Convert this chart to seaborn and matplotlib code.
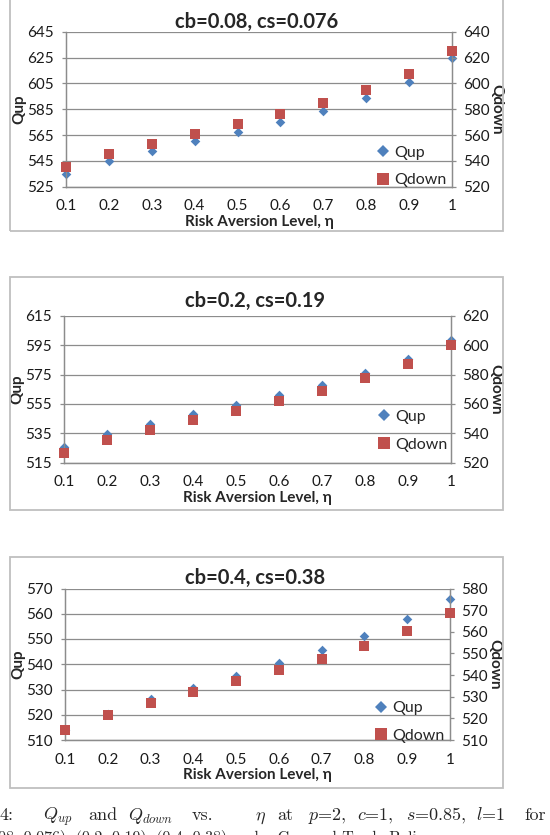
###############################################################################
###  Qup and Qdown vs risk aversion level (three cap-and-trade settings)     ###
###############################################################################

import matplotlib
matplotlib.use('Agg')
import matplotlib.pyplot as plt
import matplotlib.patches as mpatches
from matplotlib.lines import Line2D
import seaborn as sns

#------------------------------------------------------------------------------
### Data

eta = [0.1, 0.2, 0.3, 0.4, 0.5, 0.6, 0.7, 0.8, 0.9, 1.0]
eta_labels = ['0.1', '0.2', '0.3', '0.4', '0.5', '0.6', '0.7', '0.8', '0.9', '1']

titles = ['cb=0.08, cs=0.076', 'cb=0.2, cs=0.19', 'cb=0.4, cs=0.38']

qup_1 = [535.0, 545.0, 552.6, 560.1, 567.3, 575.3, 583.8, 593.9, 606.0, 624.4]
qdown_1 = [535.5, 545.3, 553.0, 560.5, 568.3, 576.0, 584.5, 594.6, 607.0, 625.3]

qup_2 = [525.7, 534.5, 541.3, 547.9, 554.5, 560.8, 567.8, 576.2, 585.7, 598.4]
qdown_2 = [526.6, 535.2, 542.2, 548.8, 555.4, 562.0, 569.0, 577.4, 586.9, 600.0]

qup_3 = [514.0, 520.1, 526.1, 530.7, 535.2, 540.6, 545.6, 551.2, 557.8, 565.7]
qdown_3 = [514.6, 521.7, 527.1, 532.2, 537.2, 542.3, 547.5, 553.5, 560.4, 568.6]

# Axis ticks (left = Qup, right = Qdown)
left_ticks = [list(range(525, 646, 20)), list(range(515, 616, 20)),
	list(range(510, 571, 10))]
right_ticks = [list(range(520, 641, 20)), list(range(520, 621, 20)),
	list(range(510, 581, 10))]

#------------------------------------------------------------------------------
### Layout constants (pixels, origin top-left)

W, H = 550, 835
# plot area: left, top, right, bottom
PLOT_BOX = [(66, 31.7, 452, 186.7), (64, 315.7, 451, 462.7),
	(65, 588.5, 450, 740)]
# grey frame round each chart: top, bottom
FRAME_BOX = [(-5, 231), (277, 510), (557, 788)]
TITLE_Y = [21.5, 301, 578.3]
# legend anchor (axes fraction, lower right corner)
LEGEND_ANCHOR = [(0.985, -0.005), (0.99, 0.075), (0.985, -0.02)]

BLUE = '#4F81BD'
RED = '#C0504D'
GRID = '#8C8C8C'
FRAME = '#BFBFBF'

sns.set_style('white')
plt.rcParams['font.family'] = ['Lato', 'DejaVu Sans']
plt.rcParams['mathtext.fontset'] = 'cm'


def px_axes(fig, box):
	left, top, right, bottom = box
	return fig.add_axes([left / W, 1 - bottom / H, (right - left) / W,
		(bottom - top) / H])


def draw_panel(fig, i, qup, qdown):
	# Frame round the chart
	top, bottom = FRAME_BOX[i]
	fig.patches.append(mpatches.Rectangle((10 / W, 1 - bottom / H), 493 / W,
		(bottom - top) / H, transform=fig.transFigure, fill=False,
		edgecolor=FRAME, linewidth=1.3))

	ax = px_axes(fig, PLOT_BOX[i])
	ax2 = ax.twinx()

	sns.scatterplot(x=eta, y=qup, ax=ax, marker='D', color=BLUE, s=24,
		linewidth=0, clip_on=False, zorder=3)
	sns.scatterplot(x=eta, y=qdown, ax=ax2, marker='s', color=RED, s=44,
		linewidth=0, clip_on=False, zorder=3)

	lt, rt = left_ticks[i], right_ticks[i]
	ax.set_xlim(eta[0], eta[-1])
	ax.set_ylim(lt[0], lt[-1])
	ax2.set_ylim(rt[0], rt[-1])
	ax.set_xticks(eta)
	ax.set_xticklabels(eta_labels)
	ax.set_yticks(lt)
	ax2.set_yticks(rt)

	ax.grid(axis='y', color=GRID, linewidth=0.9)
	ax.set_axisbelow(True)

	for a in (ax, ax2):
		a.spines['top'].set_visible(False)
		for s in ('left', 'right', 'bottom'):
			a.spines[s].set_color(GRID)
			a.spines[s].set_linewidth(0.9)
		a.tick_params(direction='out', length=3, width=0.9, color=GRID,
			labelsize=11, labelcolor='#1a1a1a')
	ax.tick_params(axis='y', pad=6)
	ax2.tick_params(axis='y', pad=5)
	ax.tick_params(axis='x', pad=6)

	ax.set_xlabel('Risk Aversion Level, η', fontsize=11, fontweight='bold',
		labelpad=1)
	ax.set_ylabel('Qup', fontsize=11, fontweight='bold')
	ax2.set_ylabel('Qdown', fontsize=11, fontweight='bold', rotation=270,
		va='center')
	ax.yaxis.set_label_coords(-0.103, 0.5)
	ax2.yaxis.set_label_coords(1.115, 0.5)

	left, _, right, _ = PLOT_BOX[i]
	fig.text((left + right) / 2 / W - 0.005, 1 - TITLE_Y[i] / H, titles[i],
		fontsize=14.5, fontweight='bold', ha='center', va='center')

	# Legend
	handles = [Line2D([], [], linestyle='none', marker='D', color=BLUE,
			markersize=6, markeredgewidth=0),
		Line2D([], [], linestyle='none', marker='s', color=RED,
			markersize=8, markeredgewidth=0)]
	ax2.legend(handles, ['Qup', 'Qdown'], loc='lower right',
		bbox_to_anchor=LEGEND_ANCHOR[i], frameon=False, fontsize=11.5,
		handlelength=0.8, handletextpad=0.3, labelspacing=0.85,
		borderpad=0, borderaxespad=0)


#------------------------------------------------------------------------------
### Make figure

fig = plt.figure(figsize=(W / 100, H / 100), dpi=100)

for i, (qup, qdown) in enumerate([(qup_1, qdown_1), (qup_2, qdown_2),
		(qup_3, qdown_3)]):
	draw_panel(fig, i, qup, qdown)

# Caption (cut off at the right and bottom, as in the page scan)
caption_parts = [(0, '4:'), (43, '$Q_{up}$'), (88, 'and'),
	(128, '$Q_{down}$'), (192, 'vs.'), (255, r'$\eta$'), (277, 'at'),
	(308, '$p$=2,'), (357, '$c$=1,'), (406, '$s$=0.85,'), (476, '$l$=1'),
	(524, 'for')]
for x, txt in caption_parts:
	fig.text(x / W, 1 - 820 / H, txt, fontsize=13, family='cmr10',
		ha='left', va='baseline')
fig.text(-2 / W, 1 - 842 / H,
	'08, 0.076), (0.2, 0.19), (0.4, 0.38) under Cap-and-Trade Policy',
	fontsize=11.5, family='cmr10', ha='left', va='baseline')

plt.savefig('out.png', dpi=100)
plt.close()
